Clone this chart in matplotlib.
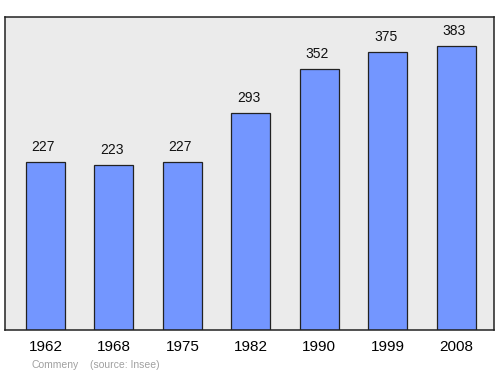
import matplotlib
matplotlib.use("Agg")
import matplotlib.pyplot as plt

plt.rcParams["font.family"] = ["Liberation Sans", "DejaVu Sans"]

years = ["1962", "1968", "1975", "1982", "1990", "1999", "2008"]
population = [227, 223, 227, 293, 352, 375, 383]

fig = plt.figure(figsize=(5.0, 3.74), dpi=100)
ax = fig.add_axes([0.010, 0.1176, 0.978, 0.837])
ax.set_facecolor("#ebebeb")

x = range(len(years))
ax.bar(x, population, width=0.57, color="#7396ff", edgecolor="#222222", linewidth=0.9, zorder=2)
for xi, v in zip(x, population):
    ax.text(xi - 0.03, v + 10, str(v), ha="center", va="bottom", fontsize=10, color="#111111")

ax.set_xlim(-0.59, 6.55)
ax.set_ylim(0, 422)
ax.set_xticks(list(x))
ax.set_xticklabels(years, fontsize=11)
ax.tick_params(axis="x", length=0, pad=7)
ax.set_yticks([])
for s in ax.spines.values():
    s.set_color("#222222")
    s.set_linewidth(1.1)

fig.text(0.062, 0.016, "Commeny", fontsize=7.5, color="#a0a0a0")
fig.text(0.18, 0.016, "(source: Insee)", fontsize=7.5, color="#a0a0a0")

fig.savefig("out.png", dpi=100)
